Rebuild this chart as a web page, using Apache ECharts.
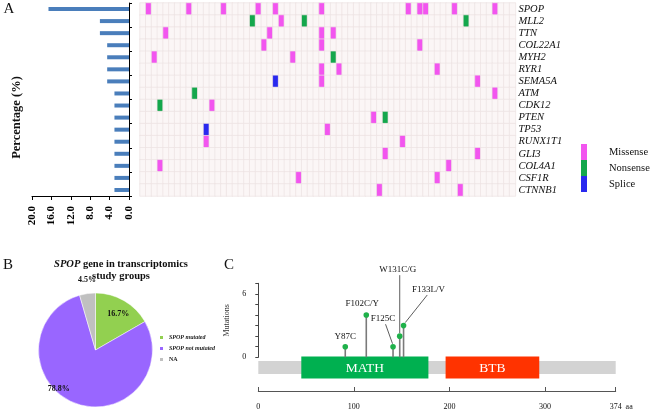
<!DOCTYPE html>
<html><head><meta charset="utf-8">
<script src="https://cdn.jsdelivr.net/npm/echarts@6/dist/echarts.min.js"></script>
<style>html,body{margin:0;padding:0;background:#fff}#c{width:650px;height:413px}</style>
</head><body><div id="c"></div>
<script>
// ---------- Panel A data ----------
const genes = ['SPOP','MLL2','TTN','COL22A1','MYH2','RYR1','SEMA5A','ATM','CDK12','PTEN','TP53','RUNX1T1','GLI3','COL4A1','CSF1R','CTNNB1'];
const mutatedPct = [16.6, 6.0, 6.0, 4.5, 4.5, 4.5, 4.5, 3.0, 3.0, 3.0, 3.0, 3.0, 3.0, 3.0, 3.0, 3.0];
const sampleCount = 65;
const missenseCols = [[1,8,14,20,23,31,46,48,49,54,61],[24],[4,22,31,33],[21,31,48],[2,26],[31,34,51],[31,58],[61],[12],[40],[32],[11,45],[42,58],[3,53],[27,51],[41,55]];
const nonsenseCols = [[],[19,28,56],[],[],[33],[],[],[9],[3],[42],[],[],[],[],[],[]];
const spliceCols   = [[],[],[],[],[],[],[23],[],[],[],[11],[],[],[],[],[]];
const mutationTypes = ['Missense','Nonsense','Splice'];

// ---------- Panel B data ----------
const pieNames = ['SPOP mutated','SPOP not mutated','NA'];
const pieValues = [16.7, 78.8, 4.5];

// ---------- Panel C data ----------
const proteinLength = 374;
const proteinTicks = [0,100,200,300,374];
const domainNames = ['MATH','BTB'];
const domainStart = [45, 196];
const domainEnd = [178, 294];
const hotspotNames = ['Y87C','F102C/Y','F125C','W131C/G','F133L/V'];
const hotspotPos = [91, 113, 141, 148, 152];
const hotspotCounts = [1, 4, 1, 2, 3];

// ---------- styles ----------
const SERIF = '"Liberation Serif", "Times New Roman", serif';
const typeColors = ['#f255ef', '#14a74c', '#2929ef'];
const pieColors = ['#92d050', '#9966ff', '#c0c0c0'];
const domainColors = {MATH: '#00b050', BTB: '#ff3300'};
const pieLabelShift = [[7,-9],[-25,10],[-4,-39]];
const hotspotLabelLayout = [
  {dx:0, dy:-10},
  {dx:-4, dy:-11},
  {dx:-10, dy:-28, leader:[-0.5,-3,-7.5,-22.5]},
  {dx:-2, dy:-67, leader:[0,-3,0,-61]},
  {dx:25, dy:-36, leader:[1.7,-3,23.7,-30.6]}
];

const samples = Array.from({length: sampleCount}, (_, i) => 'S' + (i + 1));
const heatData = [];
genes.forEach((g, r) => {
  for (let c = 0; c < sampleCount; c++) {
    let v = 0;
    if (missenseCols[r].includes(c)) v = 1;
    if (nonsenseCols[r].includes(c)) v = 2;
    if (spliceCols[r].includes(c)) v = 3;
    heatData.push([c, r, v]);
  }
});

const domainData = [[0, proteinLength, '']].concat(domainNames.map((n, i) => [domainStart[i], domainEnd[i], n]));

const chart = echarts.init(document.getElementById('c'), null, {renderer: 'canvas'});
chart.setOption({
  animation: false,
  backgroundColor: '#fff',
  grid: [
    {left: 32, top: 3, width: 97, height: 193},
    {left: 140, top: 3, width: 375.4, height: 193},
    {left: 258.3, top: 283.3, width: 357.4, height: 74},
    {left: 258.3, top: 351, width: 357.4, height: 40}
  ],
  xAxis: [
    {gridIndex: 0, type: 'value', inverse: true, min: 0, max: 20, interval: 4,
     axisLine: {show: true, lineStyle: {color: '#000', width: 1}},
     axisTick: {show: true, length: 4, lineStyle: {color: '#000'}},
     axisLabel: {rotate: 90, formatter: v => v.toFixed(1), fontFamily: SERIF, fontWeight: 'bold', fontSize: 11, color: '#000', margin: 10},
     splitLine: {show: false}},
    {gridIndex: 1, type: 'category', data: samples, show: false},
    {gridIndex: 2, type: 'value', min: 0, max: proteinLength, show: false},
    {gridIndex: 3, type: 'value', min: 0, max: proteinLength,
     axisLine: {show: true, lineStyle: {color: '#555', width: 1}},
     axisTick: {show: true, customValues: proteinTicks, inside: true, length: 4, lineStyle: {color: '#555'}},
     axisLabel: {customValues: proteinTicks, fontFamily: SERIF, fontSize: 8, color: '#111', margin: 12},
     splitLine: {show: false},
     name: 'aa', nameLocation: 'end', nameGap: 5,
     nameTextStyle: {fontFamily: SERIF, fontSize: 8, color: '#111', verticalAlign: 'top', padding: [12, 0, 0, 0]}}
  ],
  yAxis: [
    {gridIndex: 0, type: 'category', data: genes, inverse: true, position: 'right',
     axisLine: {show: true, lineStyle: {color: '#000'}}, axisTick: {show: true, length: 3, lineStyle: {color: '#000'}},
     axisLabel: {show: false}},
    {gridIndex: 1, type: 'category', data: genes, inverse: true, position: 'right',
     axisLine: {show: false}, axisTick: {show: false},
     axisLabel: {interval: 0, fontStyle: 'italic', fontFamily: SERIF, fontSize: 10.5, color: '#111', margin: 3}},
    {gridIndex: 2, type: 'value', min: 0, max: 7, interval: 1, offset: 9,
     axisLine: {show: true, lineStyle: {color: '#444'}},
     axisTick: {show: true, length: 3, lineStyle: {color: '#444'}},
     axisLabel: {formatter: v => (v === 0 || v === 6) ? String(v) : '', fontFamily: SERIF, fontSize: 8, color: '#111', margin: 3},
     splitLine: {show: false},
     name: 'Mutations', nameLocation: 'middle', nameGap: 9,
     nameTextStyle: {fontFamily: SERIF, fontSize: 8, color: '#333'}},
    {gridIndex: 3, type: 'value', min: 0, max: 1, show: false}
  ],
  visualMap: {
    type: 'piecewise', seriesIndex: 1, dimension: 2,
    pieces: mutationTypes.map((t, i) => ({value: i + 1, label: t, color: typeColors[i]})),
    outOfRange: {color: '#fbf6f6'},
    orient: 'vertical', inverse: true, align: 'left', left: 581, top: 144, padding: 0,
    itemWidth: 6, itemHeight: 16, itemGap: 0, itemSymbol: 'rect', textGap: 22,
    textStyle: {fontFamily: SERIF, fontSize: 10.5, color: '#111'},
    hoverLink: false, selectedMode: false
  },
  legend: {
    data: [{name: 'SPOP mutated'}, {name: 'SPOP not mutated'}, {name: 'NA', textStyle: {fontStyle: 'normal'}}],
    orient: 'vertical', left: 153, top: 329, itemWidth: 5, itemHeight: 5, itemGap: 4, icon: 'rect',
    selectedMode: false,
    textStyle: {fontFamily: SERIF, fontSize: 6, fontStyle: 'italic', fontWeight: 'bold', color: '#222'}
  },
  series: [
    {type: 'bar', xAxisIndex: 0, yAxisIndex: 0, data: mutatedPct, barWidth: 4,
     itemStyle: {color: '#4a7ebb'}},
    {type: 'heatmap', xAxisIndex: 1, yAxisIndex: 1, data: heatData,
     itemStyle: {borderColor: '#ece3e3', borderWidth: 0.7}},
    {type: 'pie', center: [95.5, 350], radius: 57, startAngle: 90, clockwise: true,
     data: pieNames.map((n, i) => ({name: n, value: pieValues[i], itemStyle: {color: pieColors[i]}})),
     itemStyle: {borderColor: '#fff', borderWidth: 0.5},
     label: {position: 'inside', formatter: p => p.value.toFixed(1) + '%', fontFamily: SERIF, fontSize: 8, fontWeight: 'bold', color: '#111'},
     labelLine: {show: false},
     labelLayout: p => ({dx: pieLabelShift[p.dataIndex][0], dy: pieLabelShift[p.dataIndex][1]})},
    {type: 'custom', xAxisIndex: 3, yAxisIndex: 3, clip: false, data: domainData,
     renderItem: (params, api) => {
       const i = params.dataIndex;
       const a = api.coord([api.value(0), 0]);
       const b = api.coord([api.value(1), 0]);
       const cy = a[1] - 23.5;
       if (i === 0) {
         return {type: 'rect', shape: {x: a[0], y: cy - 6.5, width: b[0] - a[0], height: 13}, style: {fill: '#d3d3d3'}};
       }
       const name = domainNames[i - 1];
       return {type: 'group', children: [
         {type: 'rect', shape: {x: a[0], y: cy - 11, width: b[0] - a[0], height: 22}, style: {fill: domainColors[name]}},
         {type: 'text', x: (a[0] + b[0]) / 2, y: cy + 0.5, style: {text: name, fill: '#fff', fontFamily: SERIF, fontSize: 13.5, align: 'center', verticalAlign: 'middle'}}
       ]};
     }},
    {type: 'custom', xAxisIndex: 2, yAxisIndex: 2, clip: false,
     data: hotspotNames.map((n, i) => [hotspotPos[i], hotspotCounts[i]]),
     renderItem: (params, api) => {
       const i = params.dataIndex;
       const base = api.coord([api.value(0), 0]);
       const top = api.coord([api.value(0), api.value(1)]);
       const L = hotspotLabelLayout[i];
       const ch = [{type: 'line', shape: {x1: base[0], y1: base[1], x2: top[0], y2: top[1]}, style: {stroke: '#7a7a7a', lineWidth: 1.6}}];
       if (L.leader) ch.push({type: 'line', shape: {x1: top[0] + L.leader[0], y1: top[1] + L.leader[1], x2: top[0] + L.leader[2], y2: top[1] + L.leader[3]}, style: {stroke: '#333', lineWidth: 0.8}});
       ch.push({type: 'circle', shape: {cx: top[0], cy: top[1], r: 2.8}, style: {fill: '#1fb14a'}});
       ch.push({type: 'text', x: top[0] + L.dx, y: top[1] + L.dy, style: {text: hotspotNames[i], fill: '#111', fontFamily: SERIF, fontSize: 9, align: 'center', verticalAlign: 'middle'}});
       return {type: 'group', children: ch};
     }}
  ],
  graphic: [
    {type: 'text', x: 9, y: 9, style: {text: 'A', fontFamily: SERIF, fontSize: 15, fill: '#111', align: 'center', verticalAlign: 'middle'}},
    {type: 'text', x: 8, y: 265, style: {text: 'B', fontFamily: SERIF, fontSize: 15, fill: '#111', align: 'center', verticalAlign: 'middle'}},
    {type: 'text', x: 229, y: 265, style: {text: 'C', fontFamily: SERIF, fontSize: 15, fill: '#111', align: 'center', verticalAlign: 'middle'}},
    {type: 'text', x: 16.5, y: 117.5, rotation: Math.PI / 2,
     style: {text: 'Percentage (%)', fontFamily: SERIF, fontSize: 12.5, fontWeight: 'bold', fill: '#111', align: 'center', verticalAlign: 'middle'}},
    {type: 'text', x: 121, y: 270,
     style: {text: '{i|SPOP} gene in transcriptomics\nstudy groups', fontFamily: SERIF, fontSize: 10.5, fontWeight: 'bold', fill: '#111', align: 'center', verticalAlign: 'middle', lineHeight: 12,
       rich: {i: {fontFamily: SERIF, fontSize: 10.5, fontWeight: 'bold', fontStyle: 'italic', fill: '#111', lineHeight: 12}}}}
  ]
});
</script>
</body></html>
